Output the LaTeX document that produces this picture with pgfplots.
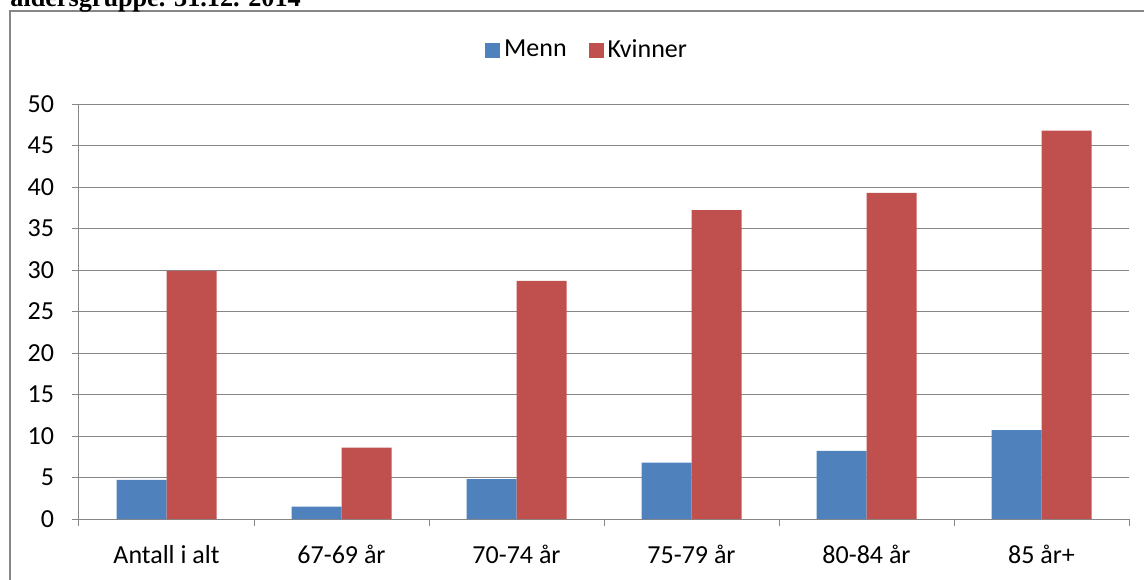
\documentclass[border=0pt]{standalone}
\usepackage{pgfplots}
\pgfplotsset{compat=1.18}
\usepackage{fontspec}
\setmainfont{Carlito}
\newfontfamily\titlefont{Liberation Serif}
\definecolor{menn}{HTML}{4F81BD}
\definecolor{kvinner}{HTML}{C0504D}
\definecolor{axgray}{HTML}{868686}
\begin{document}
\begin{tikzpicture}
\path[use as bounding box] (0,0) rectangle (572pt,289.5pt);
\draw[axgray, line width=0.75pt] (5pt,-10pt) rectangle (585pt,284pt);
\node[anchor=base west, inner sep=0pt, font=\titlefont\bfseries\fontsize{13.1}{16}\selectfont] at (5pt,286pt) {aldersgruppe. 31.12. 2014};
\begin{axis}[
  at={(39.5pt,30pt)}, anchor=south west,
  width=525pt, height=207.5pt, scale only axis,
  ybar=0pt, bar width=25pt,
  xmin=-0.5, xmax=5.5, ymin=0, ymax=50,
  xtick={-0.5,0.5,...,5.5},
  xticklabels={Antall i alt, 67-69 år, 70-74 år, 75-79 år, 80-84 år, 85 år+, {}},
  x tick label as interval,
  ytick={0,5,...,50},
  ymajorgrids, grid style={axgray, line width=0.5pt},
  axis x line*=bottom, axis y line*=left,
  axis line style={axgray, line width=0.5pt},
  tick style={axgray, line width=0.5pt},
  tick align=outside, major tick length=3.5pt,
  ticklabel style={font=\fontsize{13}{15}\selectfont},
  /pgf/number format/assume math mode=true,
  yticklabel style={xshift=-5.5pt},
  xticklabel style={yshift=-6pt},
  legend style={at={(0.4848,1.130)}, anchor=center, draw=none, fill=none,
    legend columns=2, font=\fontsize{13}{15}\selectfont,
    /tikz/every even column/.append style={column sep=9pt}},
]
\addplot[fill=menn, draw=none, legend image code/.code={\fill[menn] (0pt,-3.75pt) rectangle (7.5pt,3.75pt);}]
  coordinates {(0,4.7) (1,1.5) (2,4.8) (3,6.8) (4,8.2) (5,10.7)};
\addlegendentry{Menn}
\addplot[fill=kvinner, draw=none, legend image code/.code={\fill[kvinner] (0pt,-3.75pt) rectangle (7.5pt,3.75pt);}]
  coordinates {(0,29.9) (1,8.6) (2,28.7) (3,37.2) (4,39.3) (5,46.8)};
\addlegendentry{Kvinner}
\end{axis}
\end{tikzpicture}
\end{document}
